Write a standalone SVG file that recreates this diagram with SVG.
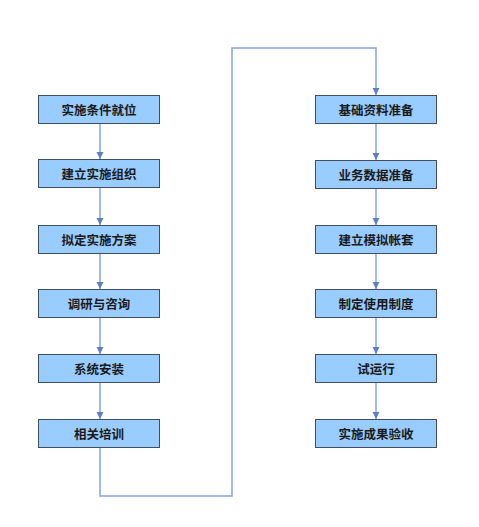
<svg xmlns="http://www.w3.org/2000/svg" width="479" height="527" viewBox="0 0 479 527">
<style>
.box{fill:#99ccff;stroke:#3f4f60;stroke-width:1}
.t{font-family:"Noto Sans CJK SC","Liberation Sans",sans-serif;font-size:12.5px;font-weight:bold;fill:#1a1a1a;text-anchor:middle;dominant-baseline:central}
.c{fill:none;stroke:#84a2e2;stroke-width:1.5}
</style>
<defs>
<marker id="a" viewBox="0 0 10 10" refX="10" refY="5" markerWidth="5" markerHeight="5" orient="auto" markerUnits="strokeWidth">
<path d="M0,0 L10,5 L0,10 z" fill="#5b80c8"/>
</marker>
</defs>
<rect width="479" height="527" fill="#ffffff"/>
<g id="connectors">
<path class="c" d="M100,123 V159" marker-end="url(#a)"/>
<path class="c" d="M100,188 V225" marker-end="url(#a)"/>
<path class="c" d="M100,254 V289" marker-end="url(#a)"/>
<path class="c" d="M100,318 V354" marker-end="url(#a)"/>
<path class="c" d="M100,383 V419" marker-end="url(#a)"/>
<path class="c" d="M100,448 V496 H232 V48 H376 V95" marker-end="url(#a)"/>
<path class="c" d="M376,123 V160" marker-end="url(#a)"/>
<path class="c" d="M376,188 V225" marker-end="url(#a)"/>
<path class="c" d="M376,254 V289" marker-end="url(#a)"/>
<path class="c" d="M376,318 V354" marker-end="url(#a)"/>
<path class="c" d="M376,383 V419" marker-end="url(#a)"/>
</g>
<g id="n1"><rect class="box" x="38.5" y="95.5" width="121" height="28"/><text class="t" x="99" y="109.5">实施条件就位</text></g>
<g id="n2"><rect class="box" x="38.5" y="159.5" width="121" height="28"/><text class="t" x="99" y="173.5">建立实施组织</text></g>
<g id="n3"><rect class="box" x="38.5" y="225.5" width="121" height="28"/><text class="t" x="99" y="239.5">拟定实施方案</text></g>
<g id="n4"><rect class="box" x="38.5" y="289.5" width="121" height="28"/><text class="t" x="99" y="303.5">调研与咨询</text></g>
<g id="n5"><rect class="box" x="38.5" y="354.5" width="121" height="28"/><text class="t" x="99" y="368.5">系统安装</text></g>
<g id="n6"><rect class="box" x="38.5" y="419.5" width="121" height="28"/><text class="t" x="99" y="433.5">相关培训</text></g>
<g id="n7"><rect class="box" x="315.5" y="95.5" width="121" height="28"/><text class="t" x="376" y="109.5">基础资料准备</text></g>
<g id="n8"><rect class="box" x="315.5" y="160.5" width="121" height="28"/><text class="t" x="376" y="174.5">业务数据准备</text></g>
<g id="n9"><rect class="box" x="315.5" y="225.5" width="121" height="28"/><text class="t" x="376" y="239.5">建立模拟帐套</text></g>
<g id="n10"><rect class="box" x="315.5" y="289.5" width="121" height="28"/><text class="t" x="376" y="303.5">制定使用制度</text></g>
<g id="n11"><rect class="box" x="315.5" y="354.5" width="121" height="28"/><text class="t" x="376" y="368.5">试运行</text></g>
<g id="n12"><rect class="box" x="315.5" y="419.5" width="121" height="28"/><text class="t" x="376" y="433.5">实施成果验收</text></g>
</svg>
